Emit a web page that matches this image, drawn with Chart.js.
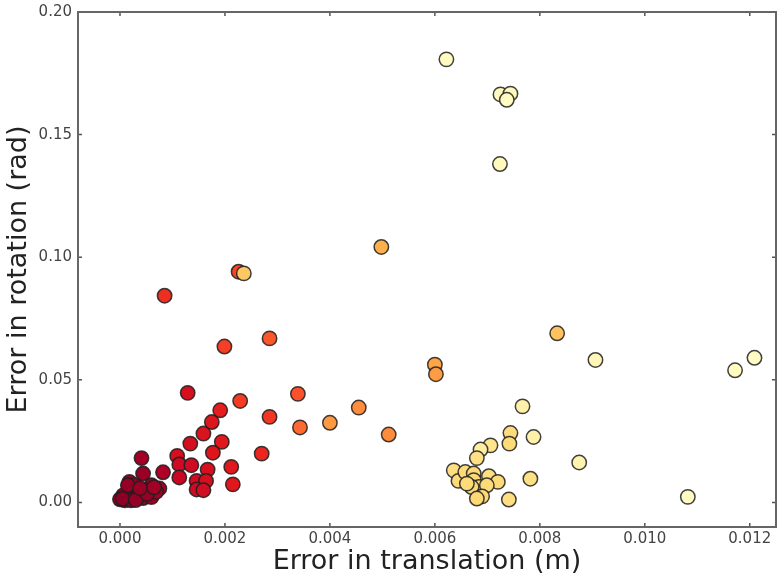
<!DOCTYPE html>
<html>
<head>
<meta charset="utf-8">
<script src="https://cdn.jsdelivr.net/npm/chart.js@4/dist/chart.umd.min.js"></script>
<style>
html,body{margin:0;padding:0;background:#fff;}
#wrap{width:777px;height:579px;}
</style>
</head>
<body>
<div id="wrap"><canvas id="c" width="777" height="579"></canvas></div>
<script>
// Translation error (m)
const transErr = [
  0.00041,0.00082,0.00044,0.00018,0.00028,0.00060,0.00075,0.00050,0.00025,0.00006,
  0.00000,0.00012,0.00044,0.00060,0.00034,0.00069,0.00009,0.00021,0.00015,0.00005,
  0.00030,0.00052,0.00065,0.00038,
  0.00109,0.00113,0.00113,0.00134,0.00136,0.00159,0.00175,0.00194,0.00177,0.00167,
  0.00212,0.00215,0.00270,0.00146,0.00164,0.00146,0.00159,0.00129,0.00191,0.00229,
  0.00285,0.00339,0.00343,0.00400,0.00455,0.00512,0.00285,0.00199,0.00226,0.00236,
  0.00498,0.00600,0.00602,0.00833,0.00085,
  0.00622,0.00725,0.00744,0.00737,0.00724,0.00906,0.01172,0.01209,0.01082,0.00767,
  0.00788,0.00875,0.00782,0.00741,0.00744,0.00742,0.00706,0.00687,0.00680,0.00636,
  0.00645,0.00658,0.00674,0.00674,0.00703,0.00720,0.00684,0.00699,0.00670,0.00690,
  0.00680,0.00661
];
// Rotation error (rad)
const rotErr = [
  0.0181,0.0123,0.0118,0.0084,0.0070,0.0070,0.0057,0.0050,0.0050,0.0029,
  0.0013,0.0016,0.0018,0.0022,0.0029,0.0043,0.0009,0.0009,0.0070,0.0015,
  0.0010,0.0035,0.0062,0.0058,
  0.0190,0.0155,0.0102,0.0240,0.0152,0.0281,0.0328,0.0247,0.0203,0.0134,
  0.0145,0.0074,0.0199,0.0088,0.0088,0.0053,0.0050,0.0447,0.0376,0.0414,
  0.0349,0.0443,0.0306,0.0325,0.0387,0.0277,0.0669,0.0636,0.0941,0.0934,
  0.1042,0.0562,0.0523,0.0690,0.0843,
  0.1807,0.1664,0.1667,0.1642,0.1380,0.0581,0.0539,0.0590,0.0023,0.0392,
  0.0267,0.0163,0.0097,0.0012,0.0283,0.0240,0.0233,0.0216,0.0181,0.0131,
  0.0088,0.0124,0.0118,0.0091,0.0107,0.0084,0.0063,0.0070,0.0063,0.0025,
  0.0016,0.0077
];
// Colour value of each point (0 = pale yellow, 1 = dark red)
const level = [
  0.93,0.90,0.95,0.95,0.95,0.93,0.92,0.95,0.96,0.97,
  0.98,0.97,0.95,0.94,0.96,0.93,0.98,0.97,0.96,0.98,
  0.96,0.95,0.93,0.95,
  0.80,0.82,0.84,0.80,0.82,0.78,0.77,0.76,0.77,0.80,
  0.76,0.76,0.72,0.82,0.80,0.82,0.81,0.80,0.74,0.67,
  0.68,0.62,0.57,0.46,0.50,0.50,0.61,0.66,0.65,0.30,
  0.38,0.42,0.45,0.32,0.70,
  0.03,0.04,0.04,0.03,0.04,0.06,0.03,0.02,0.03,0.10,
  0.10,0.08,0.20,0.22,0.23,0.24,0.18,0.12,0.20,0.22,
  0.24,0.24,0.24,0.25,0.22,0.24,0.25,0.24,0.25,0.25,
  0.25,0.24
];
const xTicks = [0.000,0.002,0.004,0.006,0.008,0.010,0.012];
const yTicks = [0.00,0.05,0.10,0.15,0.20];

const stops = ['#ffffcc','#ffeda0','#fed976','#feb24c','#fd8d3c','#fc4e2a','#e31a1c','#bd0026','#800026'];
function hex(h){return [parseInt(h.slice(1,3),16),parseInt(h.slice(3,5),16),parseInt(h.slice(5,7),16)];}
function cmap(t){
  t=Math.max(0,Math.min(1,t));
  const p=t*(stops.length-1), i=Math.min(stops.length-2,Math.floor(p)), f=p-i;
  const a=hex(stops[i]), b=hex(stops[i+1]);
  return 'rgb('+a.map((v,k)=>Math.round(v+(b[k]-v)*f)).join(',')+')';
}

const points = transErr.map((x,i)=>({x:x,y:rotErr[i]}));
const colors = level.map(cmap);

const frameTicks = {
  id:'frameTicks',
  afterDatasetsDraw(chart){
    const {ctx, chartArea:a, scales} = chart;
    ctx.save();
    ctx.strokeStyle='#555';
    ctx.lineWidth=1.5;
    ctx.beginPath();
    const L=4;
    xTicks.forEach(v=>{
      const px=scales.x.getPixelForValue(v);
      ctx.moveTo(px,a.bottom); ctx.lineTo(px,a.bottom-L);
      ctx.moveTo(px,a.top); ctx.lineTo(px,a.top+L);
    });
    yTicks.forEach(v=>{
      const py=scales.y.getPixelForValue(v);
      ctx.moveTo(a.left,py); ctx.lineTo(a.left+L,py);
      ctx.moveTo(a.right,py); ctx.lineTo(a.right-L,py);
    });
    ctx.stroke();
    ctx.lineWidth=2;
    ctx.strokeStyle='#666';
    ctx.strokeRect(a.left,a.top,a.right-a.left,a.bottom-a.top);
    ctx.restore();
  }
};

new Chart(document.getElementById('c'),{
  type:'scatter',
  data:{datasets:[{
    data:points,
    backgroundColor:colors,
    borderColor:'rgba(30,30,30,0.85)',
    borderWidth:1.5,
    pointRadius:7.2,
    pointHoverRadius:7.2
  }]},
  options:{
    responsive:false,
    animation:false,
    events:[],
    layout:{autoPadding:false,padding:{top:12,right:1,left:0,bottom:0}},
    plugins:{legend:{display:false},tooltip:{enabled:false}},
    scales:{
      x:{
        type:'linear',
        min:-0.0008,max:0.0125,
        grid:{display:false,drawTicks:false},
        border:{display:false},
        afterBuildTicks(s){s.ticks=xTicks.map(v=>({value:v}));},
        afterFit(s){s.height=52;s.paddingLeft=0;s.paddingRight=0;},
        ticks:{
          padding:3,
          color:'#444',
          font:{family:'DejaVu Sans',size:15},
          maxRotation:0,
          callback:(v)=>Number(v).toFixed(3)
        },
        title:{display:true,text:'Error in translation (m)',color:'#222',
          font:{family:'DejaVu Sans',size:27},padding:{top:0,bottom:1}}
      },
      y:{
        type:'linear',
        min:-0.01,max:0.2,
        grid:{display:false,drawTicks:false},
        border:{display:false},
        afterBuildTicks(s){s.ticks=yTicks.map(v=>({value:v}));},
        afterFit(s){s.width=78;s.paddingTop=0;s.paddingBottom=0;},
        ticks:{
          padding:6,
          color:'#444',
          font:{family:'DejaVu Sans',size:15},
          callback:(v)=>Number(v).toFixed(2)
        },
        title:{display:true,text:'Error in rotation (rad)',color:'#222',
          font:{family:'DejaVu Sans',size:27},padding:{top:3,bottom:0}}
      }
    }
  },
  plugins:[frameTicks]
});
</script>
</body>
</html>
